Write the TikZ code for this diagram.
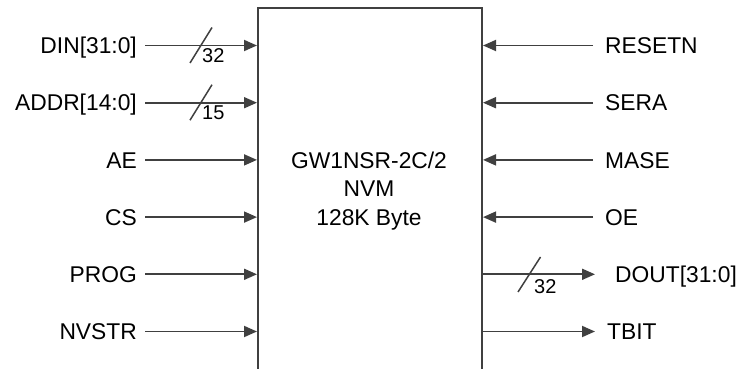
\documentclass[tikz,border=0pt]{standalone}
\usepackage{fontspec}
\setmainfont{Liberation Sans}
\usetikzlibrary{arrows.meta}
\definecolor{linegray}{RGB}{64,64,64}
\begin{document}
\begin{tikzpicture}[x=1pt,y=-1pt,
  sig/.style={draw=linegray, line width=1.8pt, -{Triangle[length=13pt,width=11pt]}},
  lbl/.style={font=\fontsize{22.8}{27}\selectfont, inner sep=0pt},
  lftlbl/.style={lbl, anchor=base east},
  rgtlbl/.style={lbl, anchor=base west},
  ctr/.style={lbl, anchor=base},
  bus/.style={font=\fontsize{20}{24}\selectfont, inner sep=0pt, anchor=north west},
  slash/.style={draw=linegray, line width=1.5pt},
  blk/.style={draw=linegray, line width=2pt, minimum width=224pt, minimum height=420pt, inner sep=0pt, anchor=north west}]
\useasboundingbox (0,0) rectangle (742,369);
\node[blk] (box) at (257,7) {};
% left labels
\node[lftlbl] (din) at (137,53.7) {DIN[31:0]};
\node[lftlbl] (addr) at (137,110.9) {ADDR[14:0]};
\node[lftlbl] (ae) at (137,168.1) {AE};
\node[lftlbl] (cs) at (137,225.3) {CS};
\node[lftlbl] (prog) at (137,282.5) {PROG};
\node[lftlbl] (nvstr) at (137,339.7) {NVSTR};
% right labels
\node[rgtlbl] (resetn) at (605,53.7) {RESETN};
\node[rgtlbl] (sera) at (605,110.9) {SERA};
\node[rgtlbl] (mase) at (605,168.1) {MASE};
\node[rgtlbl] (oe) at (605,225.3) {OE};
\node[rgtlbl] (dout) at (615,282.5) {DOUT[31:0]};
\node[rgtlbl] (tbit) at (607,339.7) {TBIT};
% centre text
\node[ctr] (t1) at (369,168.2) {GW1NSR-2C/2};
\node[ctr] (t2) at (369,196.8) {NVM};
\node[ctr] (t3) at (369,225.4) {128K Byte};
% row coordinates
\coordinate (rdin) at (145,45.5);
\coordinate (raddr) at (145,102.7);
\coordinate (rae) at (145,159.9);
\coordinate (rcs) at (145,217.1);
\coordinate (rprog) at (145,274.3);
\coordinate (rnvstr) at (145,331.5);
\coordinate (rresetn) at (593,45.5);
\coordinate (rsera) at (593,102.7);
\coordinate (rmase) at (593,159.9);
\coordinate (roe) at (593,217.1);
\coordinate (rdout) at (595,274.3);
\coordinate (rtbit) at (595,331.5);
% inputs
\foreach \r in {rdin,raddr,rae,rcs,rprog,rnvstr}
  \draw[sig] (\r) -- (\r -| box.west);
\foreach \r in {rresetn,rsera,rmase,roe}
  \draw[sig] (\r) -- (\r -| box.east);
\foreach \r in {rdout,rtbit}
  \draw[sig] (\r -| box.east) -- (\r);
% bus slashes
\draw[slash] (190,63) -- (212,27.5);
\node[bus] (n32a) at (202,48.5) {32};
\draw[slash] (190,120.2) -- (212,84.7);
\node[bus] (n15) at (202,105.7) {15};
\draw[slash] (518,292) -- (540.5,257);
\node[bus] (n32b) at (534,279) {32};
\end{tikzpicture}
\end{document}
